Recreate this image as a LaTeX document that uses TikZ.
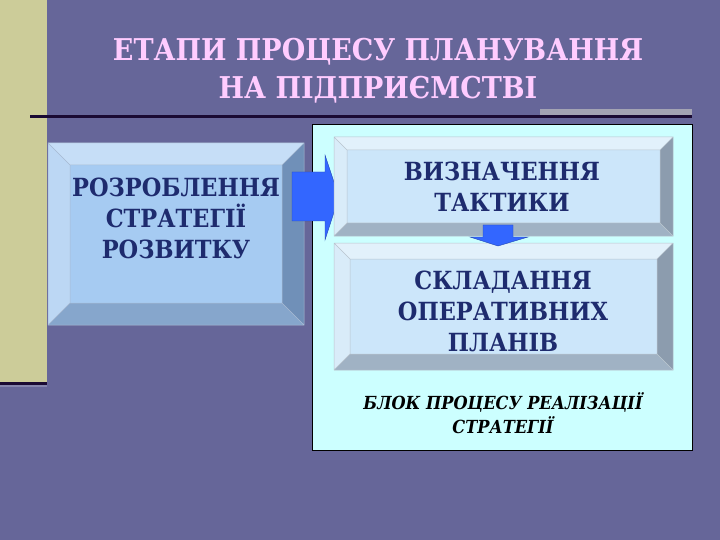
\documentclass[tikz,border=0pt]{standalone}
\usepackage{fontspec}
\setmainfont{DejaVu Serif Condensed}
\definecolor{bg}{HTML}{666699}
\definecolor{khaki}{HTML}{CCCC99}
\definecolor{darkline}{HTML}{1A0A33}
\definecolor{graybar}{HTML}{A3A3B3}
\definecolor{panel}{HTML}{CCFFFF}
\definecolor{titlepink}{HTML}{FFCCFF}
\definecolor{txtblue}{HTML}{1E2B6E}
\definecolor{arrowblue}{HTML}{3366FF}
% left box
\definecolor{lbFace}{HTML}{A6CBF2}
\definecolor{lbTop}{HTML}{C6DEF7}
\definecolor{lbLeft}{HTML}{BCD7F4}
\definecolor{lbRight}{HTML}{7090B8}
\definecolor{lbBot}{HTML}{86A6CC}
% right boxes
\definecolor{tbFace}{HTML}{CCE6FA}
\definecolor{tbTop}{HTML}{E2F1FB}
\definecolor{tbLeft}{HTML}{D9ECF9}
\definecolor{tbRight}{HTML}{8C9CAE}
\definecolor{tbBot}{HTML}{A0B2C4}
\newcommand\bevbox[6]{%
  \fill[#6Top] (#1,#2) -- (#3,#2) -- (#3-#5,#2+#5) -- (#1+#5,#2+#5) -- cycle;
  \fill[#6Left] (#1,#2) -- (#1+#5,#2+#5) -- (#1+#5,#4-#5) -- (#1,#4) -- cycle;
  \fill[#6Right] (#3,#2) -- (#3,#4) -- (#3-#5,#4-#5) -- (#3-#5,#2+#5) -- cycle;
  \fill[#6Bot] (#1,#4) -- (#3,#4) -- (#3-#5,#4-#5) -- (#1+#5,#4-#5) -- cycle;
  \fill[#6Face] (#1+#5,#2+#5) rectangle (#3-#5,#4-#5);
  \draw[#6Right!60!white, line width=0.5pt] (#1,#2) rectangle (#3,#4)
     (#1+#5,#2+#5) rectangle (#3-#5,#4-#5)
     (#1,#2) -- (#1+#5,#2+#5) (#3,#2) -- (#3-#5,#2+#5)
     (#1,#4) -- (#1+#5,#4-#5) (#3,#4) -- (#3-#5,#4-#5);
}
\begin{document}
\begin{tikzpicture}[x=1pt,y=-1pt,
  boxtext/.style={text=txtblue, font=\fontsize{25}{31}\selectfont\bfseries, align=center, inner sep=0pt},
  titletext/.style={text=titlepink, font=\fontsize{30}{38}\selectfont\bfseries, align=center, inner sep=0pt},
  blocktext/.style={text=black, font=\fontsize{18}{24}\selectfont\bfseries\itshape, align=center, inner sep=0pt},
  blockarrow/.style={fill=arrowblue, draw=arrowblue!70!black, line width=0.4pt}]
\useasboundingbox (0,0) rectangle (720,540);
\fill[bg] (0,0) rectangle (720,540);
% left strip
\fill[khaki] (0,0) rectangle (47,382);
\fill[darkline] (0,382) rectangle (47,385);
\fill[bg!80!white] (0,385) rectangle (47,387);
% title
\node[titletext] (title) at (378,71) {ЕТАПИ ПРОЦЕСУ ПЛАНУВАННЯ\\НА ПІДПРИЄМСТВІ};
% top rule
\fill[graybar] (540,109) rectangle (692,116);
\draw[darkline, line width=3pt] (30,117) -- (692,117);
% right panel
\draw[fill=panel, draw=black, line width=1pt] (312,125) rectangle (692,450);
% left box
\bevbox{48}{143}{304}{325}{22}{lb}
\node[boxtext] (strat) at (176,218) {РОЗРОБЛЕННЯ\\СТРАТЕГІЇ\\РОЗВИТКУ};
% right arrow (behind tactics box)
\path[blockarrow] (292,172) -- (325,172) -- (325,155) -- (339,197) -- (325,240) -- (325,221) -- (292,221) -- cycle;
% tactics box
\bevbox{334}{137}{673}{236}{13}{tb}
\node[boxtext] (tact) at (502,187) {ВИЗНАЧЕННЯ\\ТАКТИКИ};
% plans box
\bevbox{334}{243}{673}{370}{16}{tb}
\node[boxtext] (plans) at (503,311) {СКЛАДАННЯ\\ОПЕРАТИВНИХ\\ПЛАНІВ};
% down arrow
\path[blockarrow] (483,225) -- (513,225) -- (513,237) -- (528,237) -- (498,246) -- (470,237) -- (483,237) -- cycle;
% block caption
\node[blocktext] (block) at (503,413) {БЛОК ПРОЦЕСУ РЕАЛІЗАЦІЇ\\СТРАТЕГІЇ};
\end{tikzpicture}
\end{document}
